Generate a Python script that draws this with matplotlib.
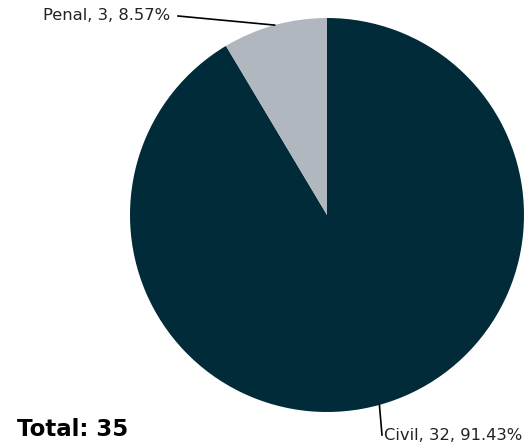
import numpy as np
import matplotlib
matplotlib.use("Agg")
import matplotlib.pyplot as plt

labels = ["Civil", "Penal"]
counts = [32, 3]
colors = ["#022b3a", "#b0b7bf"]

total = sum(counts)

fig = plt.figure(figsize=(5.25, 4.47), dpi=100)
ax = fig.add_axes([0, 0, 1, 1])

cx, cy, r = 327, 232, 197
wedges, _ = ax.pie(counts, colors=colors, startangle=90, counterclock=False,
                   center=(cx, cy), radius=r, frame=True,
                   wedgeprops=dict(linewidth=0))
ax.set_xlim(0, 525)
ax.set_ylim(0, 447)
ax.set_aspect("equal")
ax.axis("off")

# end of each leader line and which side the text sits on
ends = {"Civil": ((382, 12), "left"), "Penal": ((178, 431), "right")}
for w, lab, n in zip(wedges, labels, counts):
    ang = np.deg2rad((w.theta1 + w.theta2) / 2)
    px, py = cx + r * np.cos(ang), cy + r * np.sin(ang)
    (ex, ey), side = ends[lab]
    ax.plot([px, ex], [py, ey], color="black", lw=1.2)
    tx = ex + 2 if side == "left" else ex - 8
    ax.text(tx, ey + (-1 if lab == "Civil" else 1), f"{lab}, {n}, {n / total * 100:.2f}%",
            ha=side, va="center", fontsize=11.8, color="#222222",
            family="DejaVu Sans")

ax.text(17, 17, f"Total: {total}", ha="left", va="center", fontsize=16.5,
        fontweight="bold", color="black", family="DejaVu Sans")

fig.savefig("out.png", dpi=100)
